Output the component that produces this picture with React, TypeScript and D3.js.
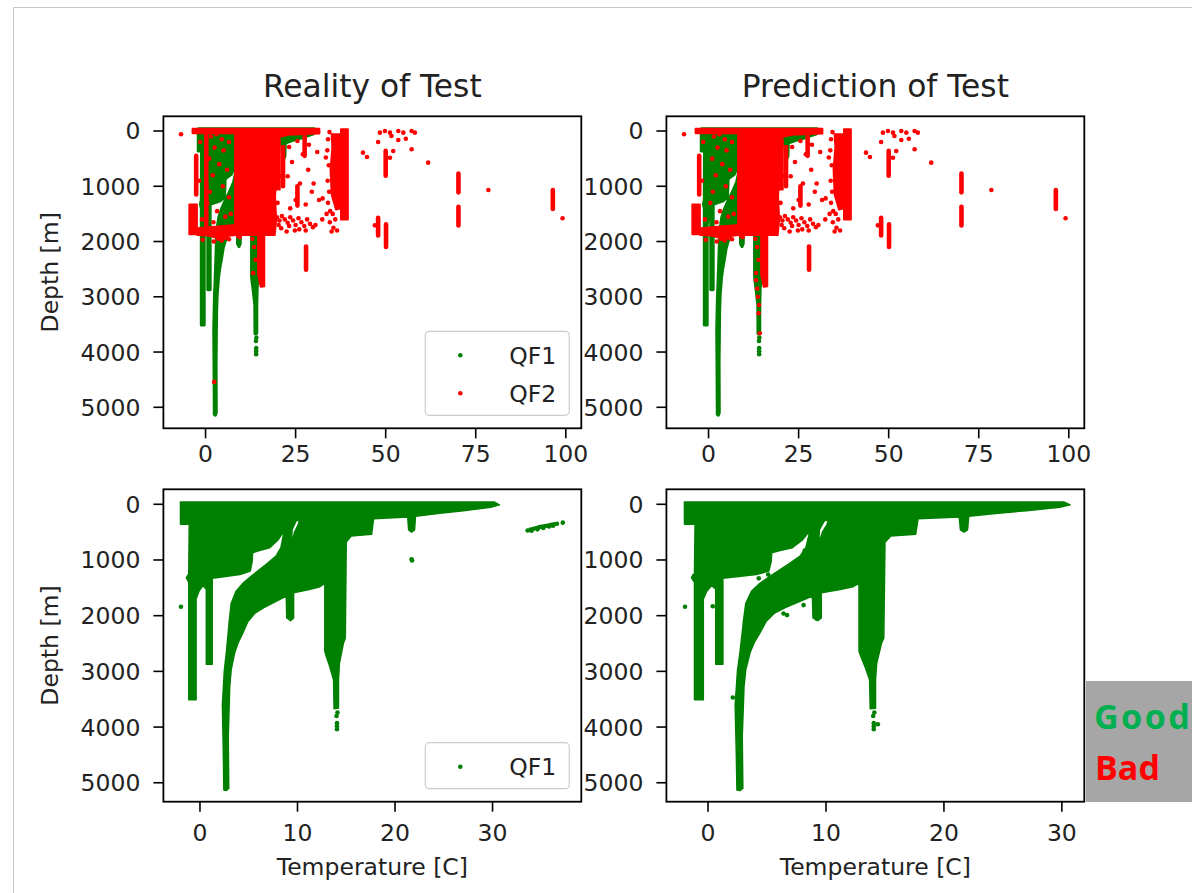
import React from 'react';
import * as d3 from 'd3';

type Pt = [number, number];
type Bar = [number, number, number];

const tempTicksTop = [0, 25, 50, 75, 100];
const tempTicksBottom = [0, 10, 20, 30];
const depthTicks = [0, 1000, 2000, 3000, 4000, 5000];

// QF1 (good) cloud, outline of the dense profiles in [temperature, depth]
const qf1Outline: Pt[] = [
  [-2.0, -40], [30.2, -40], [30.7, 10], [29.8, 55], [27.0, 115], [24.6, 160], [22.1, 215],
  [22.0, 460], [21.7, 500], [21.4, 460], [21.3, 230], [17.8, 260], [17.6, 540], [15.5, 570],
  [15.0, 680], [14.9, 2400], [14.7, 2500], [14.3, 2850], [14.2, 3150], [14.2, 3660],
  [13.75, 3670], [13.7, 3150], [13.3, 2910], [12.95, 2730], [12.8, 2640], [12.8, 1420],
  [12.3, 1480], [11.2, 1530], [9.6, 1590], [9.6, 2040], [9.3, 2090], [8.9, 2040],
  [8.85, 1650], [7.5, 1770], [6.5, 1860], [5.6, 1960], [4.9, 2110], [4.4, 2310], [3.9, 2490],
  [3.55, 2670], [3.2, 2970], [3.05, 3270], [2.9, 4170], [2.95, 5100], [2.7, 5140],
  [2.45, 5130], [2.4, 4500], [2.3, 3600], [2.5, 2980], [2.7, 2670], [2.9, 2300], [3.0, 2100],
  [3.2, 1780], [3.7, 1560], [4.4, 1420], [5.4, 1270], [6.8, 1080], [7.8, 930], [8.3, 780],
  [8.65, 470], [8.3, 560], [8.0, 640], [7.15, 780], [6.1, 830], [5.4, 870], [5.35, 1030],
  [5.15, 1200], [4.1, 1260], [2.4, 1300], [1.26, 1330], [1.26, 2870], [0.65, 2870],
  [0.65, 1520], [0.3, 1460], [-0.1, 1560], [-0.4, 1700], [-0.4, 3510], [-1.15, 3510],
  [-1.15, 1400], [-1.4, 1320], [-1.15, 1250], [-1.1, 360], [-2.0, 360],
];
const qf1Hole: Pt[] = [
  [9.4, 600], [9.45, 450], [9.85, 300], [10.2, 270], [10.1, 360], [9.7, 500], [9.55, 600],
];
const qf1Points: Pt[] = [
  [-1.95, 1840], [14.05, 3930], [14.05, 3985], [14.05, 4040], [14.1, 3740], [14.0, 3800],
];
const qf1RealityExtra: Pt[] = [
  [21.7, 990], [21.75, 1010], [33.6, 470], [33.9, 455], [34.2, 440], [34.5, 425], [34.8, 410],
  [35.1, 400], [35.4, 390], [35.7, 380], [36.0, 370], [36.3, 360], [36.6, 350], [37.2, 330],
  [34.6, 450], [35.2, 425], [35.8, 400], [36.2, 385], [34.0, 475],
];
const qf1PredictionExtra: Pt[] = [
  [-1.2, 1290], [0.4, 1830], [4.3, 1330], [5.1, 1260], [6.4, 1960], [6.7, 1990], [8.1, 1810],
  [8.2, 830], [9.2, 2050], [14.8, 1240], [2.1, 3470], [14.4, 3950],
];

// QF2 (bad) dense blocks
const qf2MainBlock: Pt[] = [
  [8.2, -40], [31.6, -40], [31.6, 45], [23.0, 70], [20.5, 110], [19.4, 200], [19.7, 700],
  [19.3, 1200], [19.6, 1600], [19.2, 1880], [8.2, 1880],
];
const qf2SurfaceBand: Pt[] = [[-3.6, -40], [8.2, -40], [8.2, 40], [-3.6, 40]];
const qf2BottomStrip: Pt[] = [
  [-2.3, 1760], [8.2, 1700], [8.2, 1880], [6.0, 1900], [4.0, 1950], [0.8, 1890], [-2.3, 1880],
];
const qf2LeftBlock: Pt[] = [[-4.5, 1330], [-2.4, 1330], [-2.4, 1870], [-4.5, 1870]];
const qf2DeepColumn: Pt[] = [[14.6, 1800], [16.3, 1800], [16.3, 2810], [15.3, 2820], [14.6, 2600]];
const qf2WarmColumn: Pt[] = [[19.1, 150], [20.6, 150], [20.6, 1060], [19.1, 1060]];
const qf2ClusterCore: Pt[] = [[37.6, -30], [39.5, -30], [39.5, 1600], [37.6, 1600]];
const qf2ClusterEdge: Pt[] = [
  [35.0, 60], [37.6, 60], [37.6, 1400], [36.2, 1420], [35.0, 1150], [34.7, 700], [35.2, 300],
];
const qf2Bars: Bar[] = [
  [50.0, 360, 810], [70.2, 770, 1110], [70.2, 1370, 1710], [96.4, 1070, 1410],
  [47.9, 1570, 1890], [50.1, 1690, 2100], [27.9, 2090, 2510], [-2.6, 450, 1150],
  [21.5, 290, 1000], [25.5, 1000, 1350], [27.5, 100, 450],
];
const qf2Points: Pt[] = [
  [-6.8, 60], [43.7, 392], [44.8, 470], [48.4, 30], [49.8, 0], [51.2, 30], [51.6, 90],
  [53.5, 0], [54.9, 30], [57.2, 0], [58.1, 30], [47.9, 199], [53.5, 163], [55.6, 139],
  [52.1, 362], [57.2, 331], [51.2, 483], [61.8, 573], [78.5, 1067], [99.1, 1580], [47.0, 1707],
  [19.8, 1560], [20.5, 1620], [21.2, 1540], [22.0, 1600], [22.8, 1660], [23.5, 1560],
  [24.3, 1620], [25.0, 1700], [25.8, 1580], [26.6, 1650], [27.4, 1720], [28.2, 1600],
  [29.0, 1680], [29.8, 1740], [21.0, 1760], [22.5, 1820], [23.2, 1720], [24.8, 1800],
  [26.0, 1780], [27.8, 1800], [20.3, 1700], [30.5, 1700],
  [23.2, 290], [25.5, 180], [27.0, 420], [24.0, 560], [28.5, 700], [22.8, 820], [26.2, 950],
  [29.5, 1100], [31.5, 1250], [32.5, 1220], [25.0, 1250], [27.8, 1330], [23.5, 1400],
  [30.0, 950], [31.0, 380], [28.7, 250], [20.2, 300], [20.9, 820], [20.0, 1300],
  [34.5, 1650], [35.5, 1750], [36.5, 1800], [35.0, 1820], [36.0, 1600], [33.4, 480],
  [33.6, 1500], [32.4, 1600], [34.0, 150], [33.8, 350], [34.2, 620], [33.9, 900],
  [34.3, 1100], [34.0, 1300], [34.6, 1450], [35.3, 1500], [34.4, 20],
  [1.5, 100], [3.0, 60], [4.5, 150], [2.5, 300], [5.0, 350], [6.5, 200], [1.0, 500],
  [3.8, 600], [6.0, 700], [2.0, 800], [-1.5, 200], [-1.8, 900], [1.2, 1100], [0.5, 1300],
  [3.2, 1450], [5.5, 1550], [7.0, 1500], [-1.0, 1600], [2.2, 1650], [4.8, 1000], [6.5, 1200],
  [9.0, 1900], [9.5, 1920], [2.3, 2000], [3.5, 1950], [4.5, 1980], [5.5, 1930], [6.5, 1960],
  [-0.8, 1970], [13.2, 2570], [13.9, 2330], [13.5, 2100], [13.0, 1950],
];
const qf2RealityBars: Bar[] = [[0.2, 0, 1850]];
const qf2RealityPoints: Pt[] = [[2.4, 4540]];
const qf2PredictionPoints: Pt[] = [
  [13.2, 2700], [13.5, 2850], [13.7, 3000], [14.0, 3150], [14.2, 3660], [13.9, 3300],
];

const GREEN = '#008000';
const RED = '#ff0000';
const FONT = 'DejaVu Sans, sans-serif';
const TICK_FS = 23.5;

type Box = { left: number; right: number; top: number; bottom: number };

type PanelProps = {
  id: string;
  box: Box;
  xDomain: [number, number];
  yDomain: [number, number];
  xTicks: number[];
  xLabelOffset: number;
  greenStroke: number;
  title?: string;
  xLabel?: string;
  yLabel?: string;
  greenPoints: Pt[];
  redPolys?: Pt[][];
  redBars?: Bar[];
  redPoints?: Pt[];
  legend?: { label: string; color: string }[];
};

function Panel(p: PanelProps) {
  const { box } = p;
  const x = d3.scaleLinear().domain(p.xDomain).range([box.left, box.right]);
  const y = d3.scaleLinear().domain(p.yDomain).range([box.top, box.bottom]);
  const ring = d3.line<Pt>().x(d => x(d[0])).y(d => y(d[1])).curve(d3.curveLinearClosed);
  const seg = d3.line<Pt>().x(d => x(d[0])).y(d => y(d[1]));
  const greenPath = (ring(qf1Outline) || '') + (ring(qf1Hole) || '');
  const cx = (box.left + box.right) / 2;
  const cy = (box.top + box.bottom) / 2;
  const legH = p.legend ? 8 + p.legend.length * 38 : 0;

  return (
    <g>
      <clipPath id={`clip-${p.id}`}>
        <rect x={box.left} y={box.top} width={box.right - box.left} height={box.bottom - box.top} />
      </clipPath>
      <g clipPath={`url(#clip-${p.id})`}>
        <path d={greenPath} fill={GREEN} fillRule="evenodd" stroke={GREEN} strokeWidth={p.greenStroke} strokeLinejoin="round" />
        {p.greenPoints.map((d, i) => (
          <circle key={`g${i}`} cx={x(d[0])} cy={y(d[1])} r={2.3} fill={GREEN} />
        ))}
        {(p.redPolys || []).map((poly, i) => (
          <path key={`rp${i}`} d={ring(poly) || ''} fill={RED} stroke={RED} strokeWidth={2} strokeLinejoin="round" />
        ))}
        {(p.redBars || []).map((b, i) => (
          <path key={`rb${i}`} d={seg([[b[0], b[1]], [b[0], b[2]]]) || ''} stroke={RED} strokeWidth={4.6} strokeLinecap="round" fill="none" />
        ))}
        {(p.redPoints || []).map((d, i) => (
          <circle key={`r${i}`} cx={x(d[0])} cy={y(d[1])} r={2.3} fill={RED} />
        ))}
      </g>
      <rect x={box.left} y={box.top} width={box.right - box.left} height={box.bottom - box.top} fill="none" stroke="#000" strokeWidth={1.8} />
      {depthTicks.map(t => (
        <g key={`yt${t}`}>
          <line x1={box.left - 10} x2={box.left} y1={y(t)} y2={y(t)} stroke="#000" strokeWidth={1.6} />
          <text x={box.left - 23} y={y(t)} dy="0.36em" textAnchor="end" fontSize={TICK_FS} fill="#222">{t}</text>
        </g>
      ))}
      {p.xTicks.map(t => (
        <g key={`xt${t}`}>
          <line x1={x(t)} x2={x(t)} y1={box.bottom} y2={box.bottom + 10} stroke="#000" strokeWidth={1.6} />
          <text x={x(t)} y={box.bottom + p.xLabelOffset} dy="0.36em" textAnchor="middle" fontSize={TICK_FS} fill="#222">{t}</text>
        </g>
      ))}
      {p.title && (
        <text x={cx} y={97} textAnchor="middle" fontSize={31.3} fill="#222">{p.title}</text>
      )}
      {p.xLabel && (
        <text x={cx} y={874.5} textAnchor="middle" fontSize={TICK_FS} fill="#222">{p.xLabel}</text>
      )}
      {p.yLabel && (
        <text transform={`translate(58,${cy}) rotate(-90)`} textAnchor="middle" fontSize={TICK_FS} fill="#222">{p.yLabel}</text>
      )}
      {p.legend && (
        <g>
          <rect x={box.right - 156} y={box.bottom - 13 - legH} width={144} height={legH} rx={4}
            fill="#fff" fillOpacity={0.8} stroke="#cccccc" strokeWidth={1.2} />
          {p.legend.map((it, i) => {
            const ly = box.bottom - 13 - legH + 24 + i * 38;
            return (
              <g key={it.label}>
                <circle cx={box.right - 121} cy={ly} r={2.3} fill={it.color} />
                <text x={box.right - 72} y={ly} dy="0.36em" fontSize={TICK_FS} fill="#222">{it.label}</text>
              </g>
            );
          })}
        </g>
      )}
    </g>
  );
}

export default function App() {
  const topY = { top: 116.3, bottom: 428.3 };
  const botY = { top: 489.3, bottom: 801.7 };
  const leftX = { left: 163.4, right: 581.3 };
  const rightX = { left: 666.4, right: 1084.3 };
  const redCommon = [
    qf2SurfaceBand, qf2MainBlock, qf2BottomStrip, qf2LeftBlock, qf2DeepColumn, qf2WarmColumn,
    qf2ClusterEdge, qf2ClusterCore,
  ];

  return (
    <svg width={1192} height={893} style={{ position: 'absolute', left: 0, top: 0, background: '#fff' }} fontFamily={FONT}>
      <rect x={0} y={0} width={1192} height={893} fill="#fff" />
      <line x1={13.5} x2={1192} y1={7.5} y2={7.5} stroke="#c8c8c8" strokeWidth={1} />
      <line x1={13.5} x2={13.5} y1={7.5} y2={893} stroke="#c8c8c8" strokeWidth={1} />

      <Panel id="tl" box={{ ...leftX, ...topY }} xDomain={[-11.7, 104.3]} yDomain={[-266, 5380]}
        xTicks={tempTicksTop} xLabelOffset={25.7} greenStroke={3.2} title="Reality of Test" yLabel="Depth [m]"
        greenPoints={qf1Points} redPolys={redCommon} redBars={[...qf2Bars, ...qf2RealityBars]}
        redPoints={[...qf2Points, ...qf2RealityPoints]}
        legend={[{ label: 'QF1', color: GREEN }, { label: 'QF2', color: RED }]} />
      <Panel id="tr" box={{ ...rightX, ...topY }} xDomain={[-11.7, 104.3]} yDomain={[-266, 5380]}
        xTicks={tempTicksTop} xLabelOffset={25.7} greenStroke={3.2} title="Prediction of Test"
        greenPoints={qf1Points} redPolys={redCommon} redBars={qf2Bars}
        redPoints={[...qf2Points, ...qf2PredictionPoints]} />
      <Panel id="bl" box={{ ...leftX, ...botY }} xDomain={[-3.75, 39.1]} yDomain={[-269, 5340]}
        xTicks={tempTicksBottom} xLabelOffset={30.8} greenStroke={1.5} xLabel="Temperature [C]" yLabel="Depth [m]"
        greenPoints={[...qf1Points, ...qf1RealityExtra]}
        legend={[{ label: 'QF1', color: GREEN }]} />
      <Panel id="br" box={{ ...rightX, ...botY }} xDomain={[-3.53, 31.9]} yDomain={[-269, 5340]}
        xTicks={tempTicksBottom} xLabelOffset={30.8} greenStroke={1.5} xLabel="Temperature [C]"
        greenPoints={[...qf1Points, ...qf1PredictionExtra]} />

      <rect x={1086} y={681} width={106} height={121} fill="#a6a6a6" />
      <text x={1094} y={729} fontFamily="Open Sans, sans-serif" fontWeight={700} fontSize={34} letterSpacing={2.5} fill="#00b050">Good</text>
      <text x={1095} y={780} fontFamily="Open Sans, sans-serif" fontWeight={700} fontSize={34} fill="#ff0000">Bad</text>
    </svg>
  );
}
